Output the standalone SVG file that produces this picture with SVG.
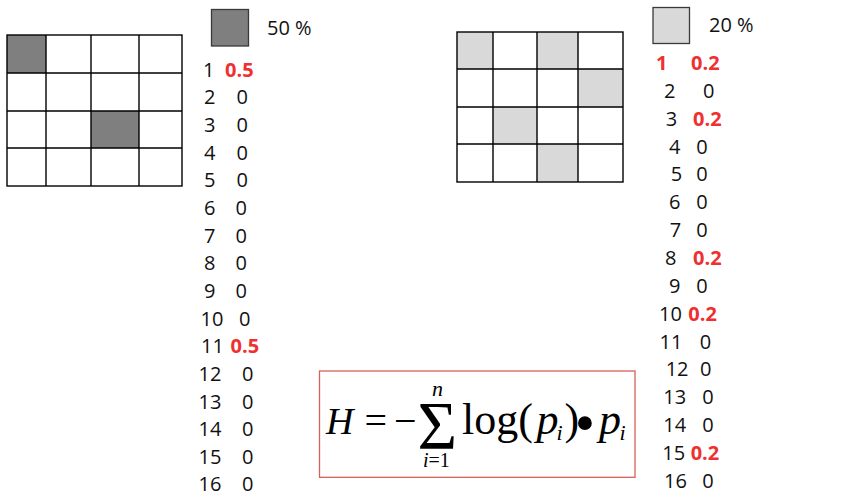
<svg xmlns="http://www.w3.org/2000/svg" width="863" height="494" viewBox="0 0 863 494">
<style>
  .bg{fill:#ffffff}
  .cell{fill:#ffffff}
  .dark{fill:#7f7f7f}
  .light{fill:#d9d9d9}
  .grid{fill:none;stroke:#000000;stroke-width:1.4}
  .leg{stroke:#3a3a3a;stroke-width:1.3}
  .t{font-family:"Open Sans","Liberation Sans",Arial,sans-serif;font-size:20px;fill:#111111}
  .r{font-family:"Open Sans","Liberation Sans",Arial,sans-serif;font-size:20px;font-weight:bold;fill:#ee3030}
  .m{font-family:"Liberation Serif","Times New Roman",serif;fill:#000000}
  .it{font-style:italic}
  .box{fill:#ffffff;stroke:#d8605a;stroke-width:1.3}
</style>
<rect class="bg" x="0" y="0" width="863" height="494"/>

<g id="left-grid">
  <rect class="cell" x="7" y="35" width="175" height="151"/>
  <rect class="dark" x="7" y="35" width="39" height="38"/>
  <rect class="dark" x="91" y="111" width="48" height="37"/>
  <rect class="grid" x="7" y="35" width="175" height="151"/>
  <path class="grid" d="M46 35V186M91 35V186M139 35V186M7 73H182M7 111H182M7 148H182"/>
</g>

<g id="left-legend">
  <rect class="dark leg" x="211.5" y="9.5" width="37" height="36.5"/>
  <text class="t" x="267" y="35">50 %</text>
</g>

<g id="left-list">
  <text class="t" x="203" y="76.7">1</text><text class="r" x="225" y="76.7">0.5</text>
  <text class="t" x="204" y="104.4">2</text><text class="t" x="236.5" y="104.4">0</text>
  <text class="t" x="204" y="132">3</text><text class="t" x="236.5" y="132">0</text>
  <text class="t" x="204" y="159.7">4</text><text class="t" x="236.5" y="159.7">0</text>
  <text class="t" x="204" y="187.4">5</text><text class="t" x="236.5" y="187.4">0</text>
  <text class="t" x="204" y="215">6</text><text class="t" x="235.5" y="215">0</text>
  <text class="t" x="204" y="242.7">7</text><text class="t" x="235.5" y="242.7">0</text>
  <text class="t" x="204" y="270.4">8</text><text class="t" x="235.5" y="270.4">0</text>
  <text class="t" x="204" y="298">9</text><text class="t" x="235.5" y="298">0</text>
  <text class="t" x="200.5" y="325.7">10</text><text class="t" x="239" y="325.7">0</text>
  <text class="t" x="201" y="353.4">11</text><text class="r" x="230.5" y="353.4">0.5</text>
  <text class="t" x="198.5" y="381">12</text><text class="t" x="242" y="381">0</text>
  <text class="t" x="198.5" y="408.7">13</text><text class="t" x="242" y="408.7">0</text>
  <text class="t" x="198.5" y="436.4">14</text><text class="t" x="242" y="436.4">0</text>
  <text class="t" x="198.5" y="464">15</text><text class="t" x="242" y="464">0</text>
  <text class="t" x="198.5" y="491">16</text><text class="t" x="242" y="491">0</text>
</g>

<g id="right-grid">
  <rect class="cell" x="457" y="32" width="166" height="150"/>
  <rect class="light" x="457" y="32" width="36" height="37"/>
  <rect class="light" x="537" y="32" width="41" height="37"/>
  <rect class="light" x="578" y="69" width="45" height="38"/>
  <rect class="light" x="493" y="107" width="44" height="37"/>
  <rect class="light" x="537" y="144" width="41" height="38"/>
  <rect class="grid" x="457" y="32" width="166" height="150"/>
  <path class="grid" d="M493 32V182M537 32V182M578 32V182M457 69H623M457 107H623M457 144H623"/>
</g>

<g id="right-legend">
  <rect class="light leg" x="653" y="7.5" width="36.5" height="36"/>
  <text class="t" x="709" y="32.3">20 %</text>
</g>

<g id="right-list">
  <text class="r" x="656" y="70">1</text><text class="r" x="691" y="70">0.2</text>
  <text class="t" x="664" y="97.9">2</text><text class="t" x="703" y="97.9">0</text>
  <text class="t" x="665.7" y="125.7">3</text><text class="r" x="693" y="125.7">0.2</text>
  <text class="t" x="669" y="153.6">4</text><text class="t" x="696.3" y="153.6">0</text>
  <text class="t" x="670.7" y="181.4">5</text><text class="t" x="696.3" y="181.4">0</text>
  <text class="t" x="669" y="209.3">6</text><text class="t" x="696.3" y="209.3">0</text>
  <text class="t" x="669.7" y="237.1">7</text><text class="t" x="696.3" y="237.1">0</text>
  <text class="t" x="665" y="265">8</text><text class="r" x="693" y="265">0.2</text>
  <text class="t" x="669" y="292.8">9</text><text class="t" x="696.3" y="292.8">0</text>
  <text class="t" x="659" y="320.7">10</text><text class="r" x="688.3" y="320.7">0.2</text>
  <text class="t" x="659.5" y="348.5">11</text><text class="t" x="699.7" y="348.5">0</text>
  <text class="t" x="665.7" y="376.4">12</text><text class="t" x="700" y="376.4">0</text>
  <text class="t" x="663.3" y="404.2">13</text><text class="t" x="702.3" y="404.2">0</text>
  <text class="t" x="663.3" y="432.1">14</text><text class="t" x="702.3" y="432.1">0</text>
  <text class="t" x="662.3" y="459.9">15</text><text class="r" x="690.7" y="459.9">0.2</text>
  <text class="t" x="664" y="487.8">16</text><text class="t" x="702.3" y="487.8">0</text>
</g>

<g id="formula">
  <rect class="box" x="319.5" y="371" width="315.5" height="106.3"/>
  <text class="m it" x="326" y="434.3" font-size="38">H</text>
  <text class="m" x="364.6" y="434.3" font-size="40">=</text>
  <text class="m" x="394" y="434.3" font-size="40">−</text>
  <text class="m" x="417.5" y="448.3" font-size="68">Σ</text>
  <text class="m it" x="432" y="395.7" font-size="22">n</text>
  <text class="m" x="423" y="466.7" font-size="20"><tspan class="it">i</tspan>=1</text>
  <text class="m" x="462" y="434.3" font-size="44">log(</text>
  <text class="m it" x="536.5" y="434.3" font-size="44">p</text>
  <text class="m it" x="556.5" y="440" font-size="22">i</text>
  <text class="m" x="564.5" y="434.3" font-size="44">)</text>
  <text class="m" x="585" y="442" font-size="58" text-anchor="middle">•</text>
  <text class="m it" x="599" y="434.3" font-size="44">p</text>
  <text class="m it" x="619.5" y="440" font-size="22">i</text>
</g>
<g id="connectors"/>
</svg>
